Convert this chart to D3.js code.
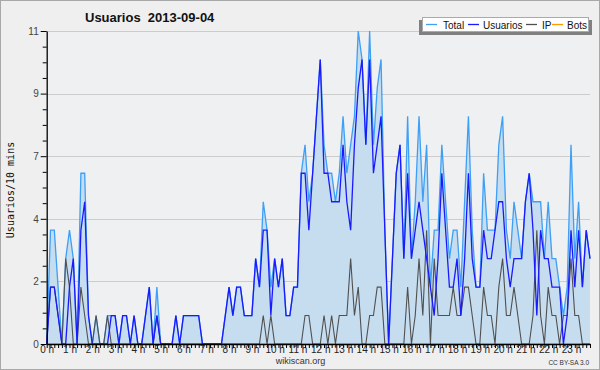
<!DOCTYPE html>
<html><head><meta charset="utf-8">
<script src="https://cdn.jsdelivr.net/npm/d3@7/dist/d3.min.js"></script>
<style>
html,body{margin:0;padding:0;background:#efefef;}
svg{display:block;}
text{white-space:pre;}
</style></head>
<body>
<svg id="chart" width="600" height="370"></svg>
<script>
// 10-minute slots, 0:00 .. 23:50
const usuarios = [0,2,2,1,0,0,2,3,0,4, 5,1,0,0,0,0,0,1,1,0, 1,1,0,1,0,0,1,2,0,1, 0,0,0,0,1,0,1,1,1,1, 1,0,0,0,0,0,0,1,2,1,
  2,2,1,1,1,3,2,4,4,1, 3,2,3,1,1,2,2,6,6,4, 6,8,10,6,6,5,5,5,7,5, 4,7,9,10,7,10,6,7,8,4, 0,3,6,7,3,6,3,4,5,4,
  3,2,1,3,6,4,2,2,3,1, 3,6,3,2,2,4,3,3,4,5, 5,3,2,3,3,3,5,6,4,1, 4,3,3,2,2,2,0,1,4,2, 4,2,4,3];
const ip = [0,2,2,1,0,3,2,0,0,2, 1,0,0,1,0,0,1,0,0,0, 0,0,0,0,0,0,0,0,0,1, 0,0,0,0,0,0,0,0,0,0, 0,0,0,0,0,0,0,0,0,0,
  0,0,0,0,0,0,0,1,0,1, 0,0,0,0,0,0,0,0,1,1, 0,0,0,1,0,1,0,1,1,1, 3,1,2,0,0,1,1,2,2,0, 0,0,0,0,0,2,0,1,3,1,
  4,0,3,1,1,1,1,2,1,1, 2,2,1,0,0,2,1,1,0,2, 3,1,1,2,1,0,0,0,1,4, 1,0,2,1,1,0,1,1,3,1, 1,0,0,0];
const total = [0,4,4,2,0,3,4,3,0,6, 6,1,0,1,0,0,1,1,1,0, 1,1,0,1,0,0,1,2,0,2, 0,0,0,0,1,0,1,1,1,1, 1,0,0,0,0,0,0,1,2,1,
  2,2,1,1,1,3,2,5,4,2, 3,2,3,1,1,2,2,6,7,5, 6,8,10,7,6,6,5,6,8,6, 7,8,11,10,7,11,7,9,10,4, 0,3,6,7,3,8,3,5,8,5,
  7,2,4,4,7,5,3,4,4,2, 5,8,4,2,2,6,4,4,4,7, 8,4,3,5,4,3,5,6,5,5, 5,3,5,3,3,2,1,2,7,3, 5,2,4,3];
const bots = [0,0,0,0,0,0,0,0,0,0, 0,0,0,0,0,0,0,0,0,0, 0,0,0,0,0,0,0,0,0,0, 0,0,0,0,0,0,0,0,0,0, 0,0,0,0,0,0,0,0,0,0,
  0,0,0,0,0,0,0,0,0,0, 0,0,0,0,0,0,0,0,0,0, 0,0,0,0,0,0,0,0,0,0, 0,0,0,0,0,0,0,0,0,0, 0,0,0,0,0,0,0,0,0,0,
  0,0,0,0,0,0,0,0,0,0, 0,0,0,0,0,0,0,0,0,0, 0,0,0,0,0,0,0,0,0,0, 0,0,0,0,0,0,0,0,0,0, 0,0,0,0];
const seriesNames = ["Total","Usuarios","IP","Bots"];
const yTickValues = [0,2.2,4.4,6.6,8.8,11];
const yTickLabels = ["0","2","4","7","9","11"];
const xHourLabels = ["0 h","1 h","2 h","3 h","4 h","5 h","6 h","7 h","8 h","9 h","10 h","11 h","12 h","13 h","14 h","15 h","16 h","17 h","18 h","19 h","20 h","21 h","22 h","23 h"];
const titleText = "Usuarios  2013-09-04";
const yTitle = "Usuarios/10 mins";

const svg = d3.select("#chart");
const W = 600, H = 370;
const L = 46.7, R = 590, T = 31, B = 344;

svg.append("rect").attr("x",0.5).attr("y",0.5).attr("width",W-1).attr("height",H-1)
  .attr("fill","#efefef").attr("stroke","#a8a8a8").attr("stroke-width",1);

const x = d3.scaleLinear().domain([0,143]).range([L,R]);
const y = d3.scaleLinear().domain([0,11]).range([B,T]);

svg.append("rect").attr("x",L).attr("y",T).attr("width",R-L).attr("height",B-T).attr("fill","#eef0f2");

// grid
svg.append("g").selectAll("line").data(yTickValues.slice(1)).join("line")
  .attr("x1",L).attr("x2",R).attr("y1",d=>Math.round(y(d))+0.5).attr("y2",d=>Math.round(y(d))+0.5)
  .attr("stroke","#cccccc").attr("stroke-width",1);

const idx = d3.range(144);
const area = d3.area().x(i=>x(i)).y0(B).y1(i=>y(total[i]));
svg.append("path").datum(idx).attr("d",area).attr("fill","#c6ddf0");

const line = arr => d3.line().x(i=>x(i)).y(i=>y(arr[i]));
svg.append("path").datum(idx).attr("d",line(bots)).attr("fill","none").attr("stroke","#ff9900").attr("stroke-width",1.2);
svg.append("path").datum(idx).attr("d",line(total)).attr("fill","none").attr("stroke","#3d9ff5").attr("stroke-width",1.3);
svg.append("path").datum(idx).attr("d",line(ip)).attr("fill","none").attr("stroke","#505050").attr("stroke-width",1.1);
svg.append("path").datum(idx).attr("d",line(usuarios)).attr("fill","none").attr("stroke","#1a1aff").attr("stroke-width",1.3);

// y axis
const yMinor = d3.range(0,20).map(k=>k*0.55).filter(v=>!yTickValues.some(t=>Math.abs(t-v)<1e-6));
const yAxisMinor = d3.axisLeft(y).tickValues(yMinor).tickSize(4).tickFormat("");
const gy2 = svg.append("g").attr("transform",`translate(${L},0)`).call(yAxisMinor);
gy2.select(".domain").remove();
gy2.selectAll("line").attr("stroke","#000");
const yAxis = d3.axisLeft(y).tickValues(yTickValues).tickSize(6).tickSizeOuter(0)
  .tickFormat((d,i)=>yTickLabels[i]);
const gy = svg.append("g").attr("transform",`translate(${L},0)`).call(yAxis);
gy.select(".domain").attr("stroke","#000").attr("stroke-width",1.3);
gy.selectAll("line").attr("stroke","#000");
gy.selectAll("text").attr("font-family","Liberation Sans, Arial, sans-serif").attr("font-size",10).attr("fill","#444").attr("dx",1);

// x axis
const xAxis = d3.axisBottom(x).tickValues(idx).tickSize(4).tickSizeOuter(0)
  .tickFormat(i=> i%6===0 ? xHourLabels[i/6] : "");
const gx = svg.append("g").attr("transform",`translate(0,${B})`).call(xAxis);
gx.select(".domain").attr("stroke","#000").attr("stroke-width",1.5);
gx.selectAll("line").attr("stroke","#000");
gx.selectAll("text").attr("font-family","Liberation Sans, Arial, sans-serif").attr("font-size",10).attr("fill","#222").attr("dy","0.45em").attr("y",4);

// title
svg.append("text").attr("x",85).attr("y",22).attr("xml:space","preserve").text(titleText)
  .attr("font-family","Liberation Sans, Arial, sans-serif").attr("font-weight","bold").attr("font-size",13).attr("fill","#111");

// y title
svg.append("text").attr("transform","translate(14,190) rotate(-90)").attr("text-anchor","middle").text(yTitle)
  .attr("font-family","DejaVu Sans Mono, monospace").attr("font-size",10).attr("fill","#111");

// footer
svg.append("text").attr("x",300.5).attr("y",364).attr("text-anchor","middle").text("wikiscan.org")
  .attr("font-family","Liberation Sans, Arial, sans-serif").attr("font-size",9).attr("fill","#333");
svg.append("text").attr("x",589).attr("y",365).attr("text-anchor","end").text("CC BY-SA 3.0")
  .attr("font-family","Liberation Sans, Arial, sans-serif").attr("font-size",6.5).attr("fill","#333");

// legend
const colors = ["#3d9ff5","#1a1aff","#505050","#ff9900"];
const lg = svg.append("g");
lg.append("rect").attr("x",419).attr("y",20).attr("width",173).attr("height",15).attr("fill","#808080");
lg.append("rect").attr("x",422.5).attr("y",17.5).attr("width",166).attr("height",14).attr("fill","#ffffff").attr("stroke","#aaaaaa");
const swatchX = [426,468,526,552];
const textX = [443,483,542,567];
seriesNames.forEach((n,k)=>{
  lg.append("line").attr("x1",swatchX[k]).attr("x2",swatchX[k]+11).attr("y1",24.5).attr("y2",24.5)
    .attr("stroke",colors[k]).attr("stroke-width",1.3);
  lg.append("text").attr("x",textX[k]).attr("y",28.5).text(n)
    .attr("font-family","Liberation Sans, Arial, sans-serif").attr("font-size",10).attr("fill","#111");
});
</script>
</body></html>
